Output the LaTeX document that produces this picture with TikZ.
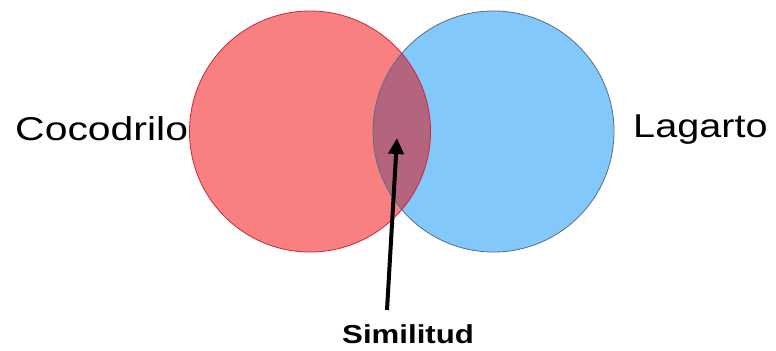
\documentclass[tikz,border=0pt]{standalone}
\usepackage{fontspec}
\setmainfont{Liberation Sans}
\usetikzlibrary{arrows.meta}
\definecolor{crocfill}{RGB}{249,128,128}
\definecolor{crocline}{RGB}{200,40,60}
\definecolor{lizfill}{RGB}{130,200,250}
\definecolor{lizline}{RGB}{85,110,140}
\definecolor{bothfill}{RGB}{180,100,125}
\tikzset{
  setcircle/.style={circle, minimum size=241bp, inner sep=0pt},
  biglabel/.style={font=\fontsize{33bp}{40bp}\selectfont, xscale=1.2, inner sep=0pt},
  simlabel/.style={font=\fontsize{26bp}{32bp}\selectfont\bfseries, xscale=1.2, inner sep=0pt},
  pointer/.style={line width=4bp, -{Triangle[length=16bp,width=15bp]}}
}
\begin{document}
\begin{tikzpicture}[x=1bp,y=-1bp]
\useasboundingbox (0,0) rectangle (776,350);
% fills
\node[setcircle, fill=lizfill] (liz) at (493.5,131.5) {};
\node[setcircle, fill=crocfill] (croc) at (310,131.5) {};
\begin{scope}
  \clip (310,131.5) circle (120.5);
  \fill[bothfill] (493.5,131.5) circle (120.5);
\end{scope}
% borders
\node[setcircle, draw=lizline, line width=0.8bp] at (liz.center) {};
\node[setcircle, draw=crocline, line width=0.8bp] at (croc.center) {};
% labels
\node[biglabel, xscale=1.033, anchor=base west] (tcroc) at (15,140) {Cocodrilo};
\node[biglabel, anchor=base west] (tliz) at (633,137) {Lagarto};
\node[simlabel, anchor=base west] (tsim) at (342,343) {Similitud};
% arrow
\coordinate (astart) at (387,310);
\coordinate (atip) at (397,138);
\draw[pointer] (astart) -- (atip);
\end{tikzpicture}
\end{document}
